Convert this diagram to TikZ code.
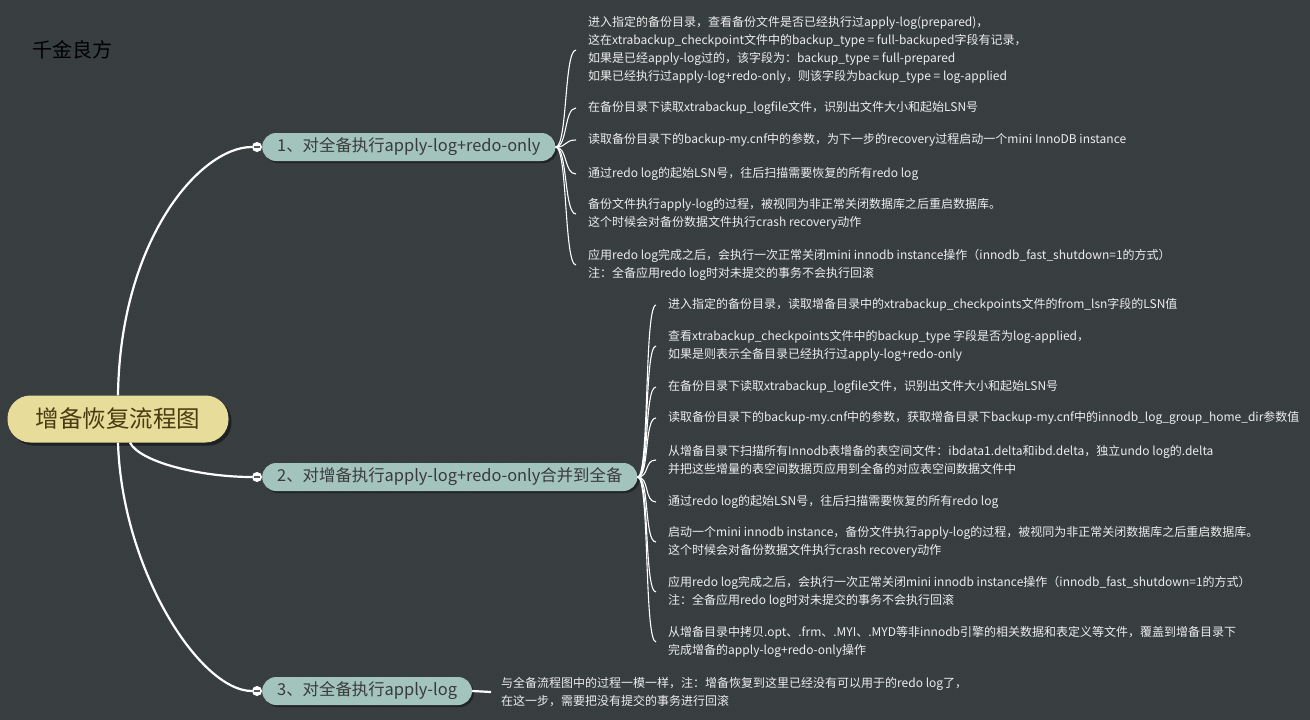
\documentclass[tikz,border=0pt]{standalone}
\usepackage{fontspec}
\setmainfont{Noto Sans CJK SC}
\usetikzlibrary{shadows}
\usetikzlibrary{patterns}
\usepackage{xcolor}

\definecolor{bgcol}{HTML}{383D40}
\definecolor{dotcol}{HTML}{42474A}
\definecolor{rootfill}{HTML}{E8DC9A}
\definecolor{roottext}{HTML}{4A3C12}
\definecolor{branchfill}{HTML}{A3C3BD}
\definecolor{branchtext}{HTML}{3A3A3A}
\definecolor{leaftext}{HTML}{EDEDED}

\tikzset{
  rootnode/.style={fill=rootfill, text=roottext, rounded corners=23pt,
    minimum width=221pt, minimum height=47pt, inner sep=0pt,
    font=\fontsize{23.5}{26}\selectfont,
    drop shadow={shadow xshift=3pt, shadow yshift=-3pt, fill=black, opacity=.45}},
  branch/.style={fill=branchfill, text=branchtext, rounded corners=14pt,
    minimum height=28pt, inner xsep=15pt, inner ysep=0pt, anchor=west,
    font=\fontsize{16.4}{18}\selectfont,
    drop shadow={shadow xshift=2pt, shadow yshift=-2pt, fill=black, opacity=.4}},
  leaf/.style={anchor=west, align=left, text=leaftext, inner xsep=12pt,
    inner ysep=0pt, font=\fontsize{12}{18}\selectfont},
  knob/.style={circle, fill=white, minimum size=10pt, inner sep=0pt,
    path picture={\draw[black!65, line width=1.3pt]
      ([xshift=-3pt]path picture bounding box.center) --
      ([xshift=3pt]path picture bounding box.center);}},
  trunk/.style={white, line width=2.2pt},
  twig/.style={white, line width=1.1pt},
}

\begin{document}
\begin{tikzpicture}[x=1pt,y=-1pt]
\fill[bgcol] (0,0) rectangle (1310,720);
\fill[pattern=dots, pattern color=dotcol] (0,0) rectangle (1310,720);
\useasboundingbox (0,0) rectangle (1310,720);

\node[anchor=west, text=black, inner sep=0pt, font=\fontsize{20}{22}\selectfont] (ttl) at (32,50) {千金良方};

% root and its three steps
\node[rootnode] (root) at (118,419) {增备恢复流程图};
\node[branch] (b1) at (262,147) {1、对全备执行apply-log+redo-only};
\node[branch] (b2) at (262,477) {2、对增备执行apply-log+redo-only合并到全备};
\node[branch] (b3) at (262,691) {3、对全备执行apply-log};
\foreach \i in {1,2,3}
  \node[knob] (k\i) at ([xshift=-5pt]b\i.west) {};

\draw[trunk] (root.north) .. controls (120,240) and (200,147) .. (k1.west);
\draw[trunk] ([xshift=12pt]root.south) .. controls (140,462) and (200,477) .. (k2.west);
\draw[trunk] (root.south) .. controls (122,570) and (200,691) .. (k3.west);

% step 1
\node[leaf] (a1) at (576,50) {进入指定的备份目录，查看备份文件是否已经执行过apply-log(prepared)，\\
  这在xtrabackup\_checkpoint文件中的backup\_type = full-backuped字段有记录，\\
  如果是已经apply-log过的，该字段为：backup\_type = full-prepared\\
  如果已经执行过apply-log+redo-only，则该字段为backup\_type = log-applied};
\node[leaf] (a2) at (576,108) {在备份目录下读取xtrabackup\_logfile文件，识别出文件大小和起始LSN号};
\node[leaf] (a3) at (576,140) {读取备份目录下的backup-my.cnf中的参数，为下一步的recovery过程启动一个mini InnoDB instance};
\node[leaf] (a4) at (576,174) {通过redo log的起始LSN号，往后扫描需要恢复的所有redo log};
\node[leaf] (a5) at (576,214) {备份文件执行apply-log的过程，被视同为非正常关闭数据库之后重启数据库。\\
  这个时候会对备份数据文件执行crash recovery动作};
\node[leaf] (a6) at (576,265) {应用redo log完成之后，会执行一次正常关闭mini innodb instance操作（innodb\_fast\_shutdown=1的方式）\\
  注：全备应用redo log时对未提交的事务不会执行回滚};
\foreach \l in {a1,a2,a3,a4,a5,a6}
  \draw[twig] (b1.east) .. controls +(12,0) and +(-12,0) .. (\l.west);

% step 2
\node[leaf] (m1) at (656,305) {进入指定的备份目录，读取增备目录中的xtrabackup\_checkpoints文件的from\_lsn字段的LSN值};
\node[leaf] (m2) at (656,346) {查看xtrabackup\_checkpoints文件中的backup\_type 字段是否为log-applied，\\
  如果是则表示全备目录已经执行过apply-log+redo-only};
\node[leaf] (m3) at (656,387) {在备份目录下读取xtrabackup\_logfile文件，识别出文件大小和起始LSN号};
\node[leaf] (m4) at (656,418) {读取备份目录下的backup-my.cnf中的参数，获取增备目录下backup-my.cnf中的innodb\_log\_group\_home\_dir参数值};
\node[leaf] (m5) at (656,460) {从增备目录下扫描所有Innodb表增备的表空间文件：ibdata1.delta和ibd.delta，独立undo log的.delta\\
  并把这些增量的表空间数据页应用到全备的对应表空间数据文件中};
\node[leaf] (m6) at (656,502) {通过redo log的起始LSN号，往后扫描需要恢复的所有redo log};
\node[leaf] (m7) at (656,542) {启动一个mini innodb instance，备份文件执行apply-log的过程，被视同为非正常关闭数据库之后重启数据库。\\
  这个时候会对备份数据文件执行crash recovery动作};
\node[leaf] (m8) at (656,592) {应用redo log完成之后，会执行一次正常关闭mini innodb instance操作（innodb\_fast\_shutdown=1的方式）\\
  注：全备应用redo log时对未提交的事务不会执行回滚};
\node[leaf] (m9) at (656,642) {从增备目录中拷贝.opt、.frm、.MYI、.MYD等非innodb引擎的相关数据和表定义等文件，覆盖到增备目录下\\
  完成增备的apply-log+redo-only操作};
\foreach \l in {m1,m2,m3,m4,m5,m6,m7,m8,m9}
  \draw[twig] (b2.east) .. controls +(12,0) and +(-12,0) .. (\l.west);

% step 3
\node[leaf, inner xsep=10pt] (c1) at (491,692) {与全备流程图中的过程一模一样，注：增备恢复到这里已经没有可以用于的redo log了，\\
  在这一步，需要把没有提交的事务进行回滚};
\draw[trunk] (b3.east) -- (c1.west);
\end{tikzpicture}
\end{document}
